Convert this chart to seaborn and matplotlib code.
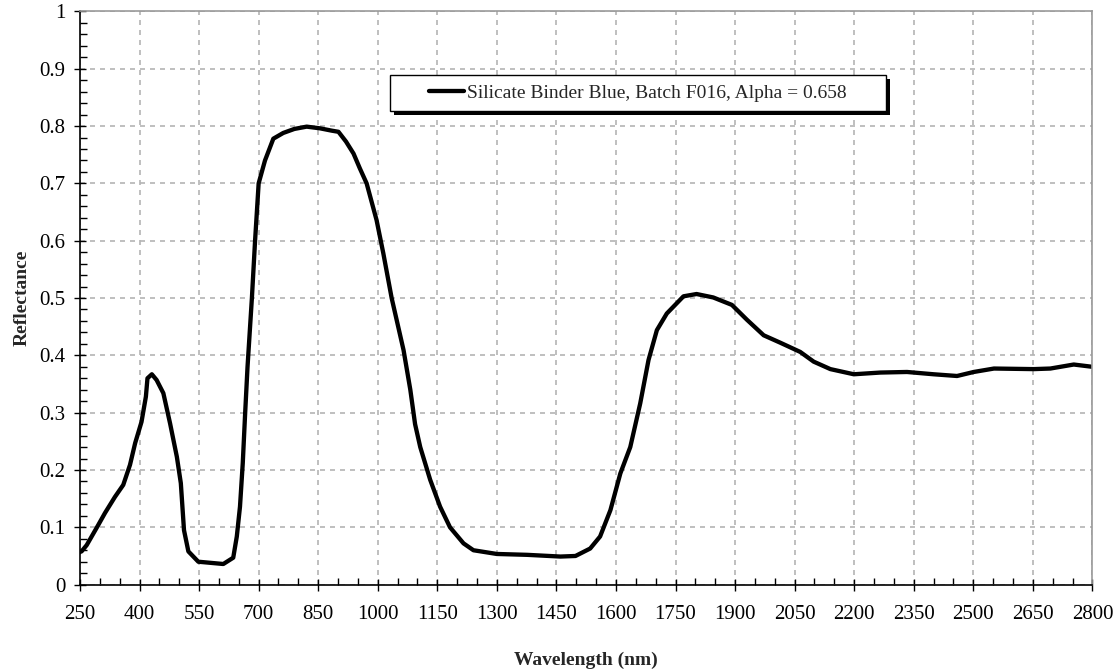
import numpy as np
import pandas as pd
import seaborn as sns
import matplotlib
matplotlib.use("Agg")
import matplotlib.pyplot as plt
from matplotlib.ticker import FixedLocator, FuncFormatter, MultipleLocator
from matplotlib.patches import Rectangle

# ---- data ----
wavelength = [250, 254, 267, 296, 313, 338, 359, 376, 389, 405, 416, 420, 431, 443, 460,
              477, 494, 504, 512, 523, 548, 611, 636, 645, 653, 660, 666, 672, 683, 691,
              700, 716, 737, 762, 790, 821, 855, 884, 901, 920, 939, 955, 972, 997, 1014,
              1035, 1065, 1082, 1094, 1107, 1132, 1157, 1182, 1216, 1241, 1300, 1376, 1460,
              1498, 1535, 1560, 1586, 1611, 1636, 1661, 1682, 1703, 1728, 1770, 1803, 1845,
              1892, 1930, 1972, 2014, 2064, 2098, 2140, 2199, 2266, 2333, 2400, 2459, 2501,
              2552, 2652, 2694, 2753, 2800]
reflectance = [0.057, 0.058, 0.069, 0.104, 0.125, 0.153, 0.174, 0.209, 0.247, 0.284, 0.328,
               0.360, 0.367, 0.357, 0.334, 0.281, 0.223, 0.177, 0.095, 0.058, 0.040, 0.036,
               0.047, 0.084, 0.136, 0.212, 0.299, 0.380, 0.500, 0.600, 0.700, 0.740, 0.778,
               0.788, 0.795, 0.799, 0.796, 0.792, 0.790, 0.773, 0.752, 0.726, 0.700, 0.636,
               0.578, 0.500, 0.409, 0.340, 0.280, 0.240, 0.183, 0.136, 0.100, 0.072, 0.060,
               0.0535, 0.052, 0.049, 0.050, 0.063, 0.084, 0.130, 0.194, 0.240, 0.316, 0.392,
               0.444, 0.473, 0.503, 0.507, 0.501, 0.488, 0.462, 0.435, 0.422, 0.406, 0.389,
               0.376, 0.367, 0.370, 0.371, 0.367, 0.364, 0.371, 0.377, 0.376, 0.377, 0.384,
               0.380]
x_ticks = list(range(250, 2801, 150))
series_label = "Silicate Binder Blue, Batch F016, Alpha = 0.658"
x_label = "Wavelength (nm)"
y_label = "Reflectance"

df = pd.DataFrame({"Wavelength": wavelength, "Reflectance": reflectance})

sns.set_theme(style="white")
plt.rcParams["font.family"] = ["Liberation Serif", "DejaVu Serif"]

fig = plt.figure(figsize=(11.17, 6.72), dpi=100)
ax = fig.add_axes([0.0716, 0.130, 0.9064, 0.853])

sns.lineplot(data=df, x="Wavelength", y="Reflectance", ax=ax, color="black",
             linewidth=3.1, estimator=None, label=series_label, sort=True)
for ln in ax.lines:
    ln.set_solid_joinstyle("round")
    ln.set_solid_capstyle("round")

ax.set_xlim(250, 2800)
ax.set_ylim(0, 1)
ax.xaxis.set_major_locator(FixedLocator(x_ticks))
ax.xaxis.set_minor_locator(FixedLocator(list(range(250, 2801, 50))))
ax.yaxis.set_major_locator(MultipleLocator(0.1))
ax.yaxis.set_minor_locator(MultipleLocator(0.02))
ax.yaxis.set_major_formatter(FuncFormatter(lambda v, p: f"{v:.1f}".rstrip("0").rstrip(".") if abs(v) > 1e-9 else "0"))

ax.grid(True, which="major", linestyle=(0, (3, 3)), color="#b4b4b4", linewidth=1.2)
ax.set_axisbelow(True)

for s in ["left", "bottom"]:
    ax.spines[s].set_color("black")
    ax.spines[s].set_linewidth(1.2)
for s in ["top", "right"]:
    ax.spines[s].set_color("#999999")
    ax.spines[s].set_linewidth(1.2)

ax.tick_params(axis="both", which="major", direction="inout", length=9, width=1.0,
               color="black", labelsize=15, labelcolor="black")
ax.tick_params(axis="both", which="minor", direction="in", length=5, width=1.0, color="black")
ax.tick_params(axis="x", which="major", pad=10)
ax.tick_params(axis="y", which="major", pad=6)
ax.tick_params(bottom=True, left=True, which="both")

ax.set_xlabel(x_label, fontsize=14, fontweight="bold", labelpad=20)
ax.set_ylabel(y_label, fontsize=14, fontweight="bold", labelpad=6)

# legend frame with solid shadow (drawn as patches), legend content centred inside
bx, by, bw, bh = 0.306, 0.826, 0.490, 0.063
ax.add_patch(Rectangle((bx + 0.004, by - 0.007), bw, bh, transform=ax.transAxes,
                       facecolor="black", edgecolor="none", zorder=4.8))
ax.add_patch(Rectangle((bx, by), bw, bh, transform=ax.transAxes,
                       facecolor="white", edgecolor="black", linewidth=1.0, zorder=4.9))
leg = ax.legend(loc="center", bbox_to_anchor=(bx + bw / 2, by + bh / 2), frameon=False,
                fontsize=14, handlelength=1.8, handletextpad=0.15, borderpad=0,
                borderaxespad=0)
leg.set_zorder(5)

fig.savefig("out.png", dpi=100)
